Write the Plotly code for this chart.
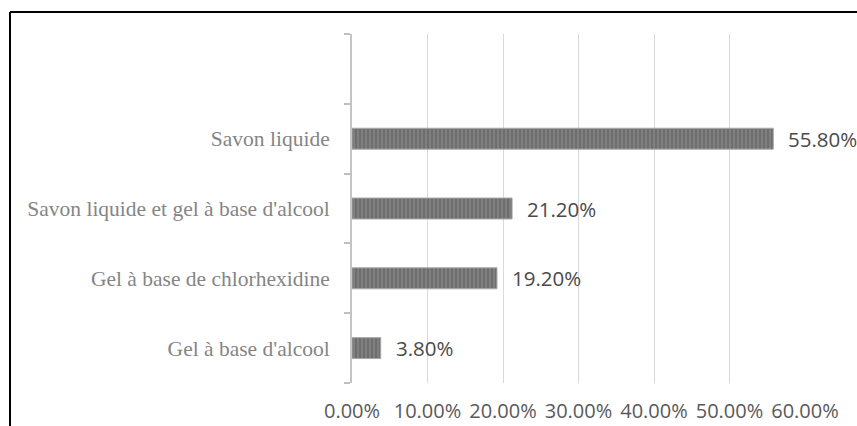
import plotly.graph_objects as go

categories = ["Gel à base d'alcool", "Gel à base de chlorhexidine",
              "Savon liquide et gel à base d'alcool", "Savon liquide"]
values = [3.8, 19.2, 21.2, 55.8]
labels = ["3.80%", "19.20%", "21.20%", "55.80%"]
axis_order = categories + [" "]
x_ticks = [0, 10, 20, 30, 40, 50, 60]
x_tick_text = ["0.00%", "10.00%", "20.00%", "30.00%", "40.00%", "50.00%", "60.00%"]

W, H = 857, 426
L, R, T, B = 352, 52, 34, 43
pw, ph = W - L - R, H - T - B

fig = go.Figure()
fig.add_trace(go.Bar(
    x=values, y=categories, orientation="h", width=0.3,
    marker=dict(color="#727272", line=dict(color="#a8a8a8", width=1),
                pattern=dict(shape="|", fgcolor="#a0a0a0", bgcolor="#6e6e6e",
                             size=4, solidity=0.35)),
    hoverinfo="skip", showlegend=False,
))

for v, c, t in zip(values, categories, labels):
    fig.add_annotation(x=v, y=c, text=t, showarrow=False, xanchor="left",
                       xshift=13, font=dict(family="Open Sans", size=20.5, color="#4a4a4a"))

# frame lines (cropped border of the original figure)
fig.add_shape(type="line", xref="paper", yref="paper",
              x0=(10 - L) / pw, x1=(W + 5 - L) / pw,
              y0=1 + (T - 12) / ph, y1=1 + (T - 12) / ph,
              line=dict(color="black", width=2))
fig.add_shape(type="line", xref="paper", yref="paper",
              x0=(10 - L) / pw, x1=(10 - L) / pw,
              y0=1 + (T - 12) / ph, y1=-(B + 5) / ph,
              line=dict(color="black", width=2))

fig.update_layout(
    width=W, height=H, margin=dict(l=L, r=R, t=T, b=B, autoexpand=False),
    paper_bgcolor="white", plot_bgcolor="white",
    xaxis=dict(range=[0, 60], tickvals=x_ticks, ticktext=x_tick_text,
               showgrid=True, gridcolor="#d9d9d9", gridwidth=1,
               zeroline=False, showline=False, ticks="", automargin=False,
               ticklabelstandoff=14,
               tickfont=dict(family="Open Sans", size=20, color="#595959")),
    yaxis=dict(type="category", categoryorder="array", categoryarray=axis_order,
               range=[-0.5, 4.5], tickson="boundaries", ticks="outside",
               ticklen=6, tickcolor="#bfbfbf", tickwidth=2, automargin=False,
               showline=True, linecolor="#c4c4c4", linewidth=2,
               showgrid=False, zeroline=False, ticklabelstandoff=16,
               tickfont=dict(family="Liberation Serif", size=21.5, color="#858585")),
)
fig.update_shapes(layer="above")
fig.write_html("out.html", config={"displayModeBar": False},
               post_script="document.body.style.margin='0';document.body.style.overflow='hidden';")
